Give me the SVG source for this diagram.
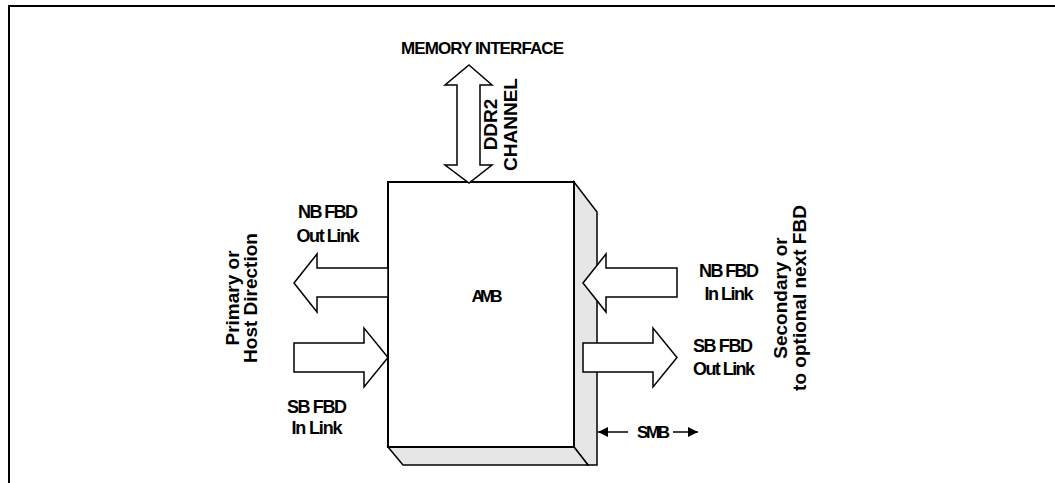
<svg xmlns="http://www.w3.org/2000/svg" width="1055" height="483" viewBox="0 0 1055 483">
<defs>
<marker id="ah" viewBox="0 0 10 10" refX="10" refY="5" markerWidth="10" markerHeight="10" markerUnits="userSpaceOnUse" orient="auto">
<path d="M0,0 L10,5 L0,10 Z" fill="#000"/>
</marker>
</defs>
<style>
.t{font-family:"Liberation Sans",Arial,sans-serif;font-weight:bold;fill:#000}
.c{font-size:18px;text-anchor:middle}
.r{font-size:19px;text-anchor:middle}
.fat{fill:#fff;stroke:#000;stroke-width:1.5;stroke-linejoin:miter}
.face{fill:#e6e6e6;stroke:#000;stroke-width:1.5}
</style>
<rect width="1055" height="483" fill="#fff"/>
<path d="M8,6 H1055 M9,6 V483" fill="none" stroke="#000" stroke-width="2"/>

<g id="amb">
<polygon class="face" points="574,182 597,212 597,465 588,465 574,447"/>
<polygon class="face" points="388,447 574,447 588,465 403,465"/>
<rect x="388" y="182" width="186" height="265" fill="#fff" stroke="#000" stroke-width="2"/>
<text class="t" x="487" y="302" font-size="17" text-anchor="middle" textLength="31" lengthAdjust="spacing">AMB</text>
</g>

<g id="memory-interface">
<text class="t" x="482.5" y="54" font-size="17" text-anchor="middle" textLength="163" lengthAdjust="spacing">MEMORY INTERFACE</text>
</g>

<g id="ddr2-label">
<text class="t r" transform="translate(497,124.5) rotate(-90)">DDR2</text>
<text class="t r" transform="translate(517,124.5) rotate(-90)">CHANNEL</text>
</g>

<g id="primary-label">
<text class="t r" transform="translate(239,298) rotate(-90)">Primary or</text>
<text class="t r" transform="translate(257,298) rotate(-90)">Host Direction</text>
</g>

<g id="secondary-label">
<text class="t r" transform="translate(787,298) rotate(-90)">Secondary or</text>
<text class="t r" transform="translate(806,298) rotate(-90)">to optional next FBD</text>
</g>

<g id="nb-out-label">
<text class="t c" x="328" y="218" textLength="60" lengthAdjust="spacing">NB FBD</text>
<text class="t c" x="328" y="242" textLength="63" lengthAdjust="spacing">Out Link</text>
</g>
<g id="sb-in-label">
<text class="t c" x="317" y="413" textLength="60" lengthAdjust="spacing">SB FBD</text>
<text class="t c" x="317" y="434" textLength="51" lengthAdjust="spacing">In Link</text>
</g>
<g id="nb-in-label">
<text class="t c" x="729" y="277" textLength="60" lengthAdjust="spacing">NB FBD</text>
<text class="t c" x="729" y="300" textLength="49" lengthAdjust="spacing">In Link</text>
</g>
<g id="sb-out-label">
<text class="t c" x="723" y="352" textLength="60" lengthAdjust="spacing">SB FBD</text>
<text class="t c" x="724" y="375" textLength="62" lengthAdjust="spacing">Out Link</text>
</g>
<g id="smb-label">
<text class="t" x="653.5" y="438" font-size="17" text-anchor="middle" textLength="33" lengthAdjust="spacing">SMB</text>
</g>

<g id="connectors">
<polygon class="fat" points="469,65 492,85 480,85 480,165 492,165 469,183 445,165 457,165 457,85 445,85"/>
<polygon class="fat" points="294,283 317,254 317,268 388,268 388,297 317,297 317,312"/>
<polygon class="fat" points="294,343 364,343 364,328 388,357.5 364,387 364,372 294,372"/>
<polygon class="fat" points="583,283 606,254 606,268 677,268 677,297 606,297 606,312"/>
<polygon class="fat" points="583,343 653,343 653,328 677,357.5 653,387 653,372 583,372"/>
<line x1="628" y1="432" x2="598" y2="432" stroke="#000" stroke-width="1.5" marker-end="url(#ah)"/>
<line x1="673" y1="432" x2="698" y2="432" stroke="#000" stroke-width="1.5" marker-end="url(#ah)"/>
</g>
</svg>
